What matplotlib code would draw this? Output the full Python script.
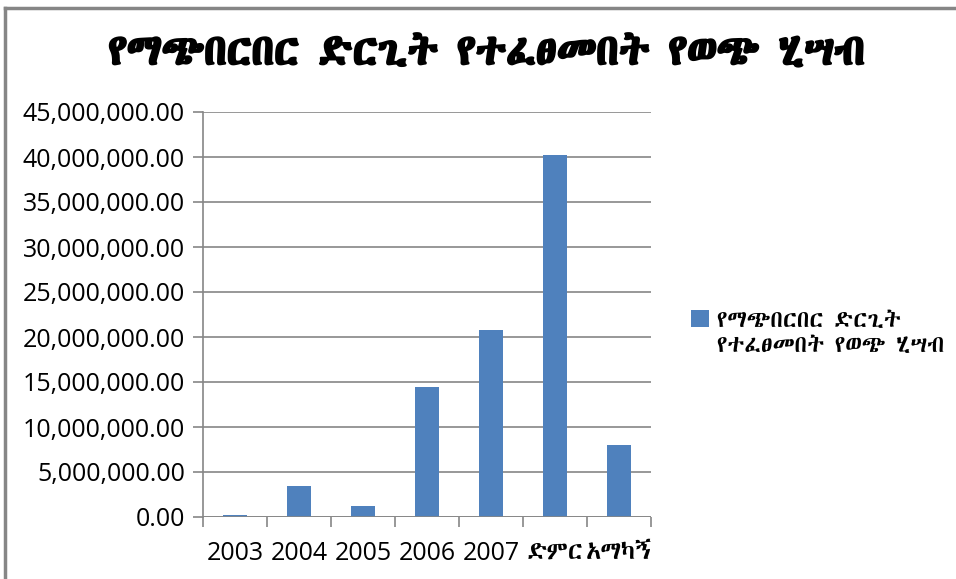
import os
import matplotlib
matplotlib.use("Agg")
import matplotlib.pyplot as plt
from matplotlib import font_manager as fm
from matplotlib import patheffects as pe
from matplotlib.ticker import FuncFormatter, MultipleLocator

for p in ["/usr/share/fonts/truetype/google-fonts/NotoSansEthiopic[wdth,wght].ttf",
          "/usr/share/fonts/truetype/google-fonts/AbyssinicaSIL-Regular.ttf"]:
    if os.path.exists(p):
        fm.fontManager.addfont(p)

ETH = ["Abyssinica SIL", "Noto Sans Ethiopic", "DejaVu Sans"]
LAT = ["Open Sans", "DejaVu Sans"]

title = "የማጭበርበር ድርጊት የተፈፀመበት የወጭ ሂሣብ"
series_lines = ["የማጭበርበር ድርጊት", "የተፈፀመበት የወጭ ሂሣብ"]
categories = ["2003", "2004", "2005", "2006", "2007", "ድምር", "አማካኝ"]
values = [200000, 3450000, 1250000, 14450000, 20750000, 40200000, 8050000]

fig = plt.figure(figsize=(9.56, 5.79), dpi=100)
ax = fig.add_axes([203/956, 1-517/579, (651-203)/956, (517-112)/579])

x = list(range(len(categories)))
ax.bar(x, values, width=0.39, color="#4F81BD", zorder=3, label=series_lines[0])
ax.set_xlim(-0.5, len(categories)-0.5)
ax.set_ylim(0, 45000000)
ax.yaxis.set_major_locator(MultipleLocator(5000000))
ax.yaxis.set_major_formatter(FuncFormatter(lambda v, p: f"{v:,.2f}"))
ax.grid(axis="y", color="#868686", linewidth=1.2, zorder=0)
for s in ["top", "right", "bottom"]:
    ax.spines[s].set_visible(False)
ax.spines["left"].set_color("#868686")
ax.spines["left"].set_linewidth(1.2)
ax.axhline(0, color="#868686", linewidth=1.2, zorder=4)

ax.set_xticks([i - 0.5 for i in range(len(categories)+1)], minor=False)
ax.set_xticklabels([])
ax.set_xticks(x, minor=True)
ax.set_xticklabels(categories, minor=True)
ax.tick_params(axis="x", which="major", length=7, width=1.2, color="#868686", direction="out")
ax.tick_params(axis="x", which="minor", length=0, pad=17)
ax.tick_params(axis="y", length=7, width=1.2, color="#868686", direction="out", pad=6)
for lbl in ax.get_yticklabels():
    lbl.set_fontfamily(LAT)
    lbl.set_fontsize(18)
for lbl, c in zip(ax.xaxis.get_minorticklabels(), categories):
    if c.isdigit():
        lbl.set_fontfamily(LAT)
        lbl.set_fontsize(18)
    else:
        lbl.set_fontfamily(ETH)
        lbl.set_fontsize(18)

t = fig.text(487/956, 1-53/579, title, ha="center", va="center", fontsize=30.5,
             family=ETH)
t.set_path_effects([pe.Stroke(linewidth=1.6, foreground="black"), pe.Normal()])

leg = fig.legend(loc="upper left", bbox_to_anchor=(691/956, 1-309/579), frameon=False,
                 prop=fm.FontProperties(family=ETH, size=17), handlelength=0.75,
                 handleheight=0.75, handletextpad=0.35, borderpad=0, borderaxespad=0)

fig.canvas.draw()
bb = leg.get_texts()[0].get_window_extent()
inv = fig.transFigure.inverted()
x0, y0 = inv.transform((bb.x0, bb.y0))
fig.text(x0, y0 - 25/579, series_lines[1], ha="left", va="bottom", family=ETH, fontsize=17)

fig.add_artist(plt.Line2D([5/956, 5/956], [0, 1-8/579], color="#868686", linewidth=2.5,
                          transform=fig.transFigure))
fig.add_artist(plt.Line2D([5/956, 1], [1-8/579, 1-8/579], color="#868686", linewidth=2.5,
                          transform=fig.transFigure))

fig.savefig("out.png", dpi=100)
